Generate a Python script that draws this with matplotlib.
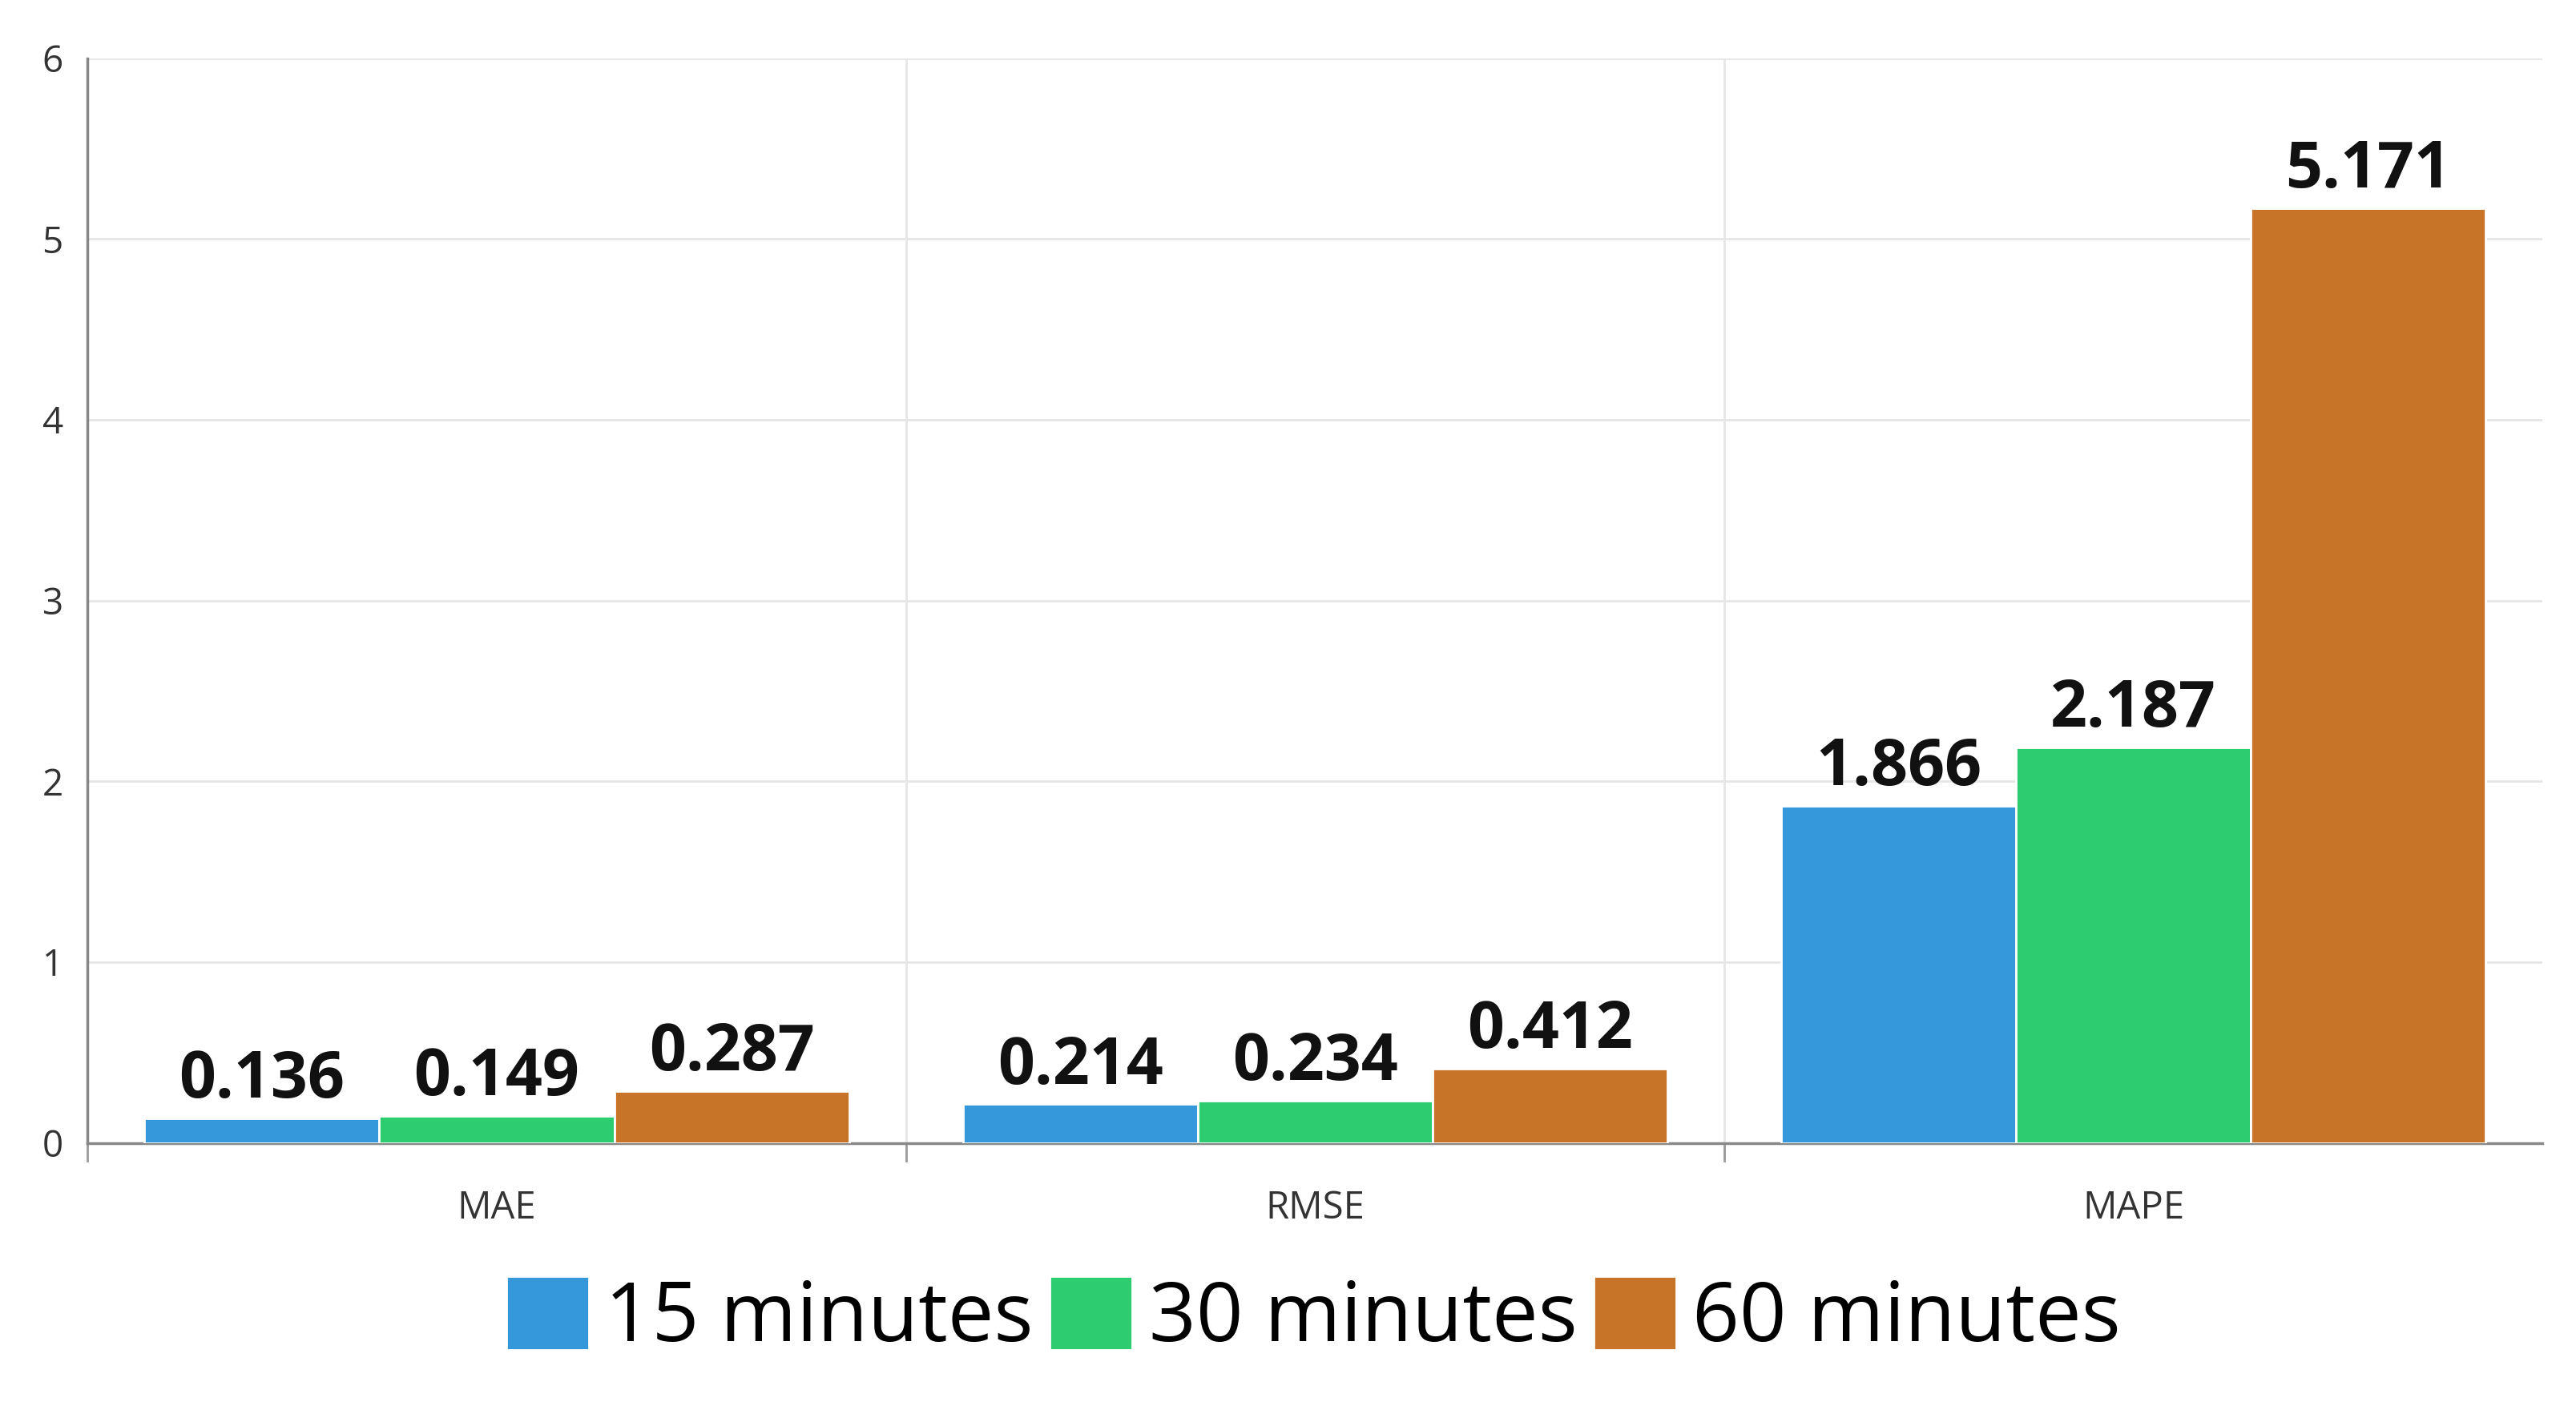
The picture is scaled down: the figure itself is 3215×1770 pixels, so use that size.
import matplotlib.pyplot as plt
import numpy as np

metrics = ["MAE", "RMSE", "MAPE"]
series_names = ["15 minutes", "30 minutes", "60 minutes"]
values_15 = [0.136, 0.214, 1.866]
values_30 = [0.149, 0.234, 2.187]
values_60 = [0.287, 0.412, 5.171]
colors = ["#3498db", "#2ecc71", "#c87428"]

plt.rcParams["font.family"] = ["Open Sans", "DejaVu Sans"]

fig = plt.figure(figsize=(32.15, 17.7), dpi=100)
ax = fig.add_axes([0.034, 0.194, 0.953, 0.765])

x = np.arange(len(metrics))
width = 0.287
for i, (name, vals, c) in enumerate(zip(series_names, [values_15, values_30, values_60], colors)):
    pos = x + (i - 1) * width
    bars = ax.bar(pos, vals, width, color=c, edgecolor="white", linewidth=2, label=name, zorder=3)
    for b, v in zip(bars, vals):
        ax.text(b.get_x() + b.get_width() / 2, v + 0.03, f"{v:.3f}", ha="center", va="bottom",
                fontsize=58, fontweight="bold", color="#111111", zorder=4)

ax.set_xlim(-0.5, 2.5)
ax.set_ylim(0, 6)
ax.set_yticks(range(0, 7))
ax.set_yticklabels([str(i) for i in range(7)], fontsize=33, color="#333333")
ax.set_xticks(x)
ax.set_xticklabels(metrics, fontsize=34, color="#333333")
ax.tick_params(axis="x", length=0, pad=42)
ax.tick_params(axis="y", length=0, pad=22)
for yv in range(1, 7):
    ax.axhline(yv, color="#e6e6e6", linewidth=2, zorder=0)
for xv in [0.5, 1.5]:
    ax.axvline(xv, color="#e6e6e6", linewidth=2, zorder=0)
for xv in [-0.5, 0.5, 1.5]:
    ax.plot([xv, xv], [0, -0.1], color="#999999", linewidth=2, clip_on=False)
for s in ["top", "right"]:
    ax.spines[s].set_visible(False)
ax.spines["left"].set_color("#888888")
ax.spines["left"].set_linewidth(2.5)
ax.spines["bottom"].set_color("#888888")
ax.spines["bottom"].set_linewidth(2.5)

fig.legend(loc="lower center", bbox_to_anchor=(0.51, -0.012), ncol=3, frameon=False,
           fontsize=74, handlelength=1.0, handleheight=1.0, handletextpad=0.2, columnspacing=0.2)

fig.savefig("out.png", dpi=100)
